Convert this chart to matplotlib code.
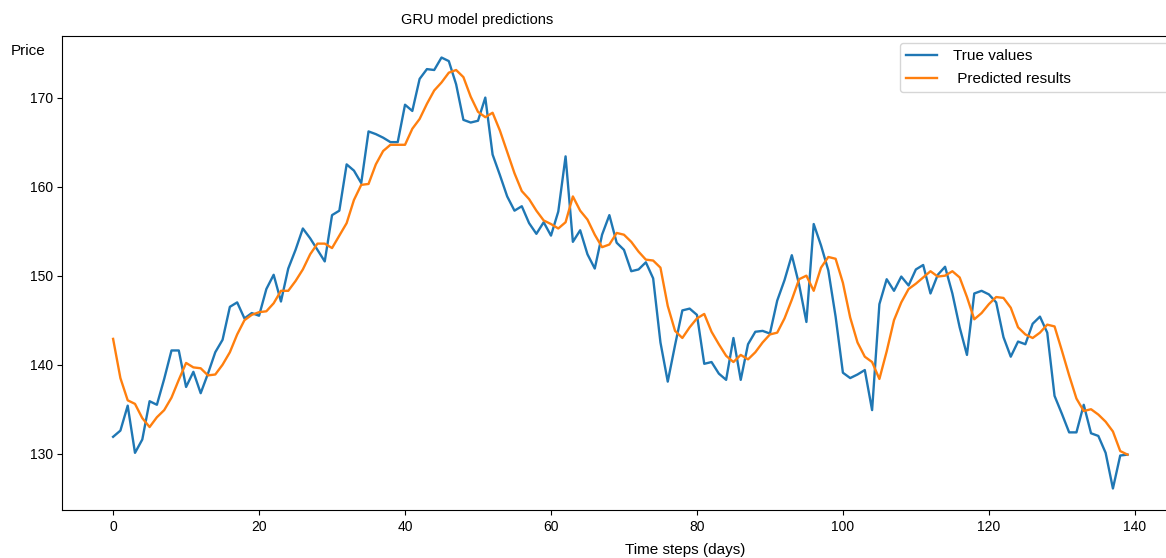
import matplotlib
matplotlib.use('Agg')
import matplotlib.pyplot as plt
import numpy as np

plt.rcParams['font.family'] = ['Liberation Sans', 'DejaVu Sans']

true_values = [
    131.9, 132.6, 135.4, 130.1, 131.6, 135.9, 135.5, 138.4, 141.6, 141.6,
    137.5, 139.2, 136.8, 139.0, 141.4, 142.8, 146.5, 147.0, 145.2, 145.8,
    145.5, 148.5, 150.1, 147.1, 150.8, 152.9, 155.3, 154.2, 152.9, 151.6,
    156.8, 157.3, 162.5, 161.8, 160.4, 166.2, 165.9, 165.5, 165.0, 165.0,
    169.2, 168.5, 172.1, 173.2, 173.1, 174.5, 174.1, 171.5, 167.5, 167.2,
    167.4, 170.0, 163.6, 161.3, 158.9, 157.3, 157.8, 155.9, 154.7, 156.0,
    154.5, 157.2, 163.4, 153.8, 155.1, 152.4, 150.8, 154.6, 156.8, 153.7,
    152.9, 150.5, 150.7, 151.5, 149.7, 142.5, 138.1, 142.2, 146.1, 146.3,
    145.6, 140.1, 140.3, 139.0, 138.3, 143.0, 138.3, 142.3, 143.7, 143.8,
    143.5, 147.2, 149.5, 152.3, 149.0, 144.8, 155.8, 153.4, 150.6, 145.4,
    139.1, 138.5, 138.9, 139.4, 134.9, 146.8, 149.6, 148.3, 149.9, 148.9,
    150.7, 151.2, 148.0, 150.1, 151.0, 148.0, 144.2, 141.1, 148.0, 148.3,
    147.9, 147.0, 143.1, 140.9, 142.6, 142.3, 144.6, 145.4, 143.6, 136.5,
    134.5, 132.4, 132.4, 135.5, 132.3, 132.0, 130.1, 126.1, 129.8, 129.9,
]

predicted = [
    142.9, 138.5, 136.0, 135.6, 134.0, 133.0, 134.1, 134.9, 136.3, 138.3,
    140.2, 139.7, 139.6, 138.8, 138.9, 140.0, 141.4, 143.4, 145.0, 145.6,
    145.9, 146.0, 146.9, 148.3, 148.3, 149.4, 150.7, 152.4, 153.6, 153.6,
    153.1, 154.5, 155.9, 158.5, 160.2, 160.3, 162.5, 164.0, 164.7, 164.7,
    164.7, 166.5, 167.6, 169.3, 170.8, 171.7, 172.8, 173.1, 172.3, 170.1,
    168.4, 167.8, 168.3, 166.3, 163.9, 161.5, 159.5, 158.6, 157.3, 156.2,
    155.8, 155.3, 156.0, 158.9, 157.3, 156.3, 154.6, 153.2, 153.5, 154.8,
    154.6, 153.8, 152.7, 151.8, 151.7, 150.9, 146.6, 143.8, 143.0, 144.2,
    145.2, 145.7, 143.7, 142.3, 141.0, 140.3, 141.1, 140.6, 141.4, 142.5,
    143.4, 143.6, 145.2, 147.3, 149.6, 150.0, 148.3, 150.9, 152.1, 151.9,
    149.2, 145.3, 142.5, 140.9, 140.3, 138.4, 141.5, 145.0, 147.0, 148.5,
    149.1, 149.8, 150.5, 149.9, 150.0, 150.5, 149.8, 147.6, 145.1, 145.8,
    146.8, 147.6, 147.5, 146.4, 144.2, 143.4, 143.0, 143.6, 144.5, 144.3,
    141.6, 138.8, 136.2, 134.8, 135.0, 134.4, 133.6, 132.5, 130.3, 129.9,
]

days = np.arange(len(true_values))

fig = plt.figure(figsize=(11.66, 5.58), dpi=100)
# axes run past the right edge, as in the cropped screenshot
ax = fig.add_axes([0.0535, 0.086, 0.957, 0.8495])

ax.plot(days, true_values, color='#1f77b4', linewidth=1.7, label='True values')
ax.plot(days, predicted, color='#ff7f0e', linewidth=1.7, label=' Predicted results')

ax.tick_params(labelsize=10)
ax.text(0.372, 1.034, 'GRU model predictions', transform=ax.transAxes,
        ha='center', va='center', fontsize=10.5)
ax.set_xlabel('Time steps (days)', fontsize=11)
ax.xaxis.set_label_coords(0.558, -0.07)
ax.set_ylabel('Price', rotation=0, fontsize=11)
ax.yaxis.set_label_coords(-0.031, 0.953)

ax.legend(loc='upper left', bbox_to_anchor=(0.7506, 0.985, 0.243, 0),
          mode='expand', borderaxespad=0, fontsize=11,
          handletextpad=1.1, labelspacing=0.6)

fig.savefig('out.png', dpi=100)
